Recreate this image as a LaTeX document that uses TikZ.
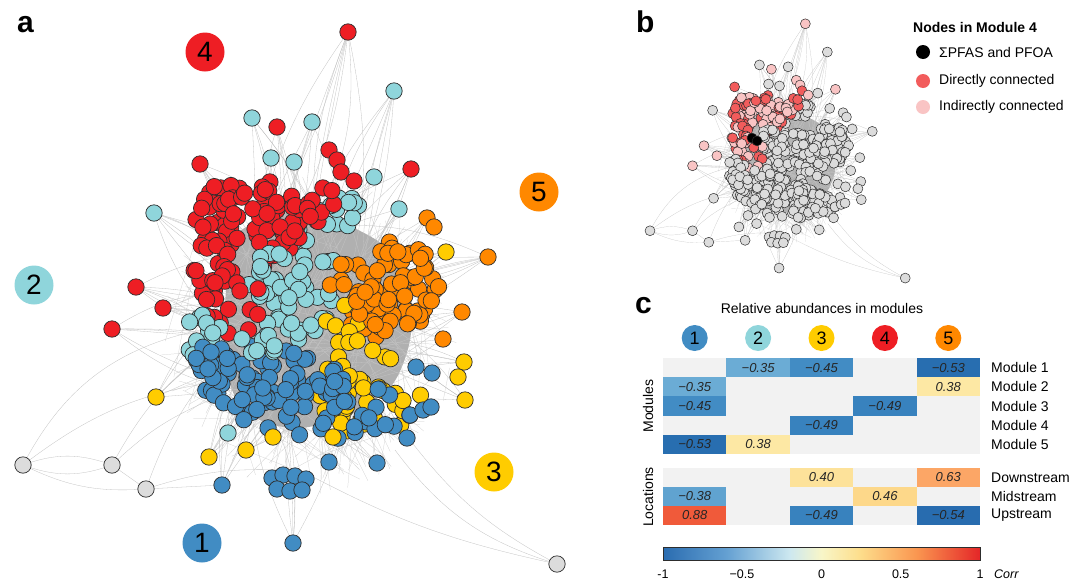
\documentclass[tikz,border=0pt]{standalone}
\usepackage{fontspec}
\setmainfont{Liberation Sans}
\definecolor{cRed}{RGB}{238,30,36}
\definecolor{cLb}{RGB}{143,213,219}
\definecolor{cOr}{RGB}{255,136,0}
\definecolor{cYe}{RGB}{255,204,0}
\definecolor{cBl}{RGB}{65,140,195}
\definecolor{cGr}{RGB}{220,220,220}
\definecolor{cOut}{RGB}{45,45,45}
\definecolor{bRed}{RGB}{242,92,92}
\definecolor{bPink}{RGB}{249,196,196}
\definecolor{texc}{RGB}{205,205,205}
\definecolor{edgec}{RGB}{195,195,195}
\definecolor{blobc}{RGB}{176,176,176}
\definecolor{cellbg}{RGB}{242,242,242}
\definecolor{h35}{RGB}{107,172,213}
\definecolor{h38}{RGB}{96,163,208}
\definecolor{h45}{RGB}{66,140,196}
\definecolor{h49}{RGB}{56,130,190}
\definecolor{h53}{RGB}{40,110,176}
\definecolor{h54}{RGB}{40,108,175}
\definecolor{p38}{RGB}{253,232,164}
\definecolor{p40}{RGB}{253,226,154}
\definecolor{p46}{RGB}{253,216,138}
\definecolor{p63}{RGB}{252,166,102}
\definecolor{p88}{RGB}{240,90,58}
\definecolor{sc0}{RGB}{42,108,176}
\definecolor{sc1}{RGB}{100,160,210}
\definecolor{sc2}{RGB}{205,232,240}
\definecolor{sc3}{RGB}{248,246,200}
\definecolor{sc4}{RGB}{253,222,140}
\definecolor{sc5}{RGB}{250,150,80}
\definecolor{sc6}{RGB}{228,38,40}
\pgfdeclarehorizontalshading{corrshade}{100bp}{color(0bp)=(sc0); color(25bp)=(sc0); color(35bp)=(sc1); color(45bp)=(sc2); color(50bp)=(sc3); color(56bp)=(sc4); color(65bp)=(sc5); color(75bp)=(sc6); color(100bp)=(sc6)}
\tikzset{
  tex/.style={draw=texc, line width=0.22pt},
  oedge/.style={draw=edgec, line width=0.3pt},
  nodeA/.style={fill=#1, draw=cOut, line width=0.7pt},
  nodeB/.style={fill=#1, draw=cOut, line width=0.5pt},
  blobst/.style={fill=blobc},
  setA/.style={
    m0/.style={nodeA=cGr},
    m1/.style={nodeA=cBl}, m1x/.style={nodeA=cBl},
    m2/.style={nodeA=cLb}, m2x/.style={nodeA=cLb},
    m3/.style={nodeA=cYe}, m3x/.style={nodeA=cYe},
    m4/.style={nodeA=cRed}, m4x/.style={nodeA=cRed}, o4/.style={nodeA=cRed},
    m5/.style={nodeA=cOr}, m5x/.style={nodeA=cOr}},
  setB/.style={
    tex/.style={draw=texc, line width=0.12pt},
    oedge/.style={draw=edgec, line width=0.18pt},
    m0/.style={nodeB=cGr},
    m1/.style={nodeB=cGr}, m1x/.style={nodeB=cGr},
    m2/.style={nodeB=cGr}, m2x/.style={nodeB=cGr},
    m3/.style={nodeB=cGr}, m3x/.style={nodeB=cGr},
    m4/.style={nodeB=bRed}, m4x/.style={nodeB=bPink}, o4/.style={nodeB=bPink},
    m5/.style={nodeB=cGr}, m5x/.style={nodeB=cGr}},
  plab/.style={anchor=base west, inner sep=0pt, font=\fontsize{30}{32}\selectfont\bfseries},
  modA/.style={circle, inner sep=0pt, minimum size=39pt, font=\fontsize{28}{30}\selectfont},
  modC/.style={circle, inner sep=0pt, minimum size=26pt, font=\fontsize{18}{20}\selectfont},
  lbl/.style={inner sep=0pt, font=\fontsize{14}{16}\selectfont},
  val/.style={inner sep=0pt, text=black!85, font=\fontsize{13}{15}\selectfont\itshape},
  tick/.style={inner sep=0pt, font=\fontsize{12.5}{14}\selectfont},
}
\newcommand\ndd[3]{\path[#1] (#2,#3) circle[radius=\nr];}
\newcommand\cloud[6]{%
  \foreach \i in {1,...,#1}{%
    \pgfmathsetmacro\aa{360*rnd}%
    \pgfmathsetmacro\rr{sqrt(rnd)}%
    \pgfmathsetmacro\xx{#2+#4*\rr*cos(\aa)}%
    \pgfmathsetmacro\yy{#3+#5*\rr*sin(\aa)}%
    \ifodd\i\relax\edef\st{#6x}\else\edef\st{#6}\fi
    \expandafter\ndd\expandafter{\st}{\xx}{\yy}%
  }}
\newcommand\oedges[3]{%
  \foreach \j in {1,...,#3}{%
    \pgfmathsetmacro\aa{360*rnd}%
    \pgfmathsetmacro\rr{sqrt(rnd)}%
    \pgfmathsetmacro\bd{40*rnd-20}%
    \pgfmathsetmacro\xx{300+85*\rr*cos(\aa)}%
    \pgfmathsetmacro\yy{320+95*\rr*sin(\aa)}%
    \draw[oedge] (#1,#2) to[bend left=\bd] (\xx,\yy);%
  }}
\newcommand\network{%
  \pgfmathsetseed{4242}%
  \foreach \i in {1,...,450}{%
    \pgfmathsetmacro\aa{360*rnd}\pgfmathsetmacro\ra{rnd}%
    \pgfmathsetmacro\bb{360*rnd}\pgfmathsetmacro\rb{rnd}%
    \draw[tex] ({310+150*\ra*cos(\aa)},{335+160*\ra*sin(\aa)}) -- ({310+150*\rb*cos(\bb)},{335+160*\rb*sin(\bb)});}%
  \fill[blobst] plot[smooth cycle] coordinates {(235,235) (285,212) (340,222) (390,250) (410,290) (410,340) (392,385) (350,415) (300,428) (260,420) (232,390) (225,320) (228,270)};%
  \draw[oedge] (23,465) to[bend left=20] (112,465);
  \draw[oedge] (23,465) to[bend right=20] (112,465);
  \draw[oedge] (112,465) -- (146,489);
  \draw[oedge] (23,465) to[bend right=15] (146,489);
  \draw[oedge] (23,465) to[bend left=25] (200,330);
  \draw[oedge] (23,465) to[bend left=15] (230,380);
  \draw[oedge] (112,465) to[bend left=10] (210,400);
  \draw[oedge] (112,465) to[bend left=15] (240,330);
  \draw[oedge] (146,489) -- (222,485);
  \draw[oedge] (146,489) to[bend left=10] (280,470);
  \draw[oedge] (146,489) to[bend left=10] (220,360);
  \draw[oedge] (557,564) to[bend left=12] (410,440);
  \draw[oedge] (557,564) to[bend left=18] (395,450);
  \draw[oedge] (557,564) to[bend left=8] (300,470);
  \foreach \x/\y/\k in {348/32/9, 277/127/5, 252/118/5, 312/122/5, 394/91/7, 200/164/6, 271/158/4, 294/162/4, 411/169/6, 374/177/3, 154/213/7, 399/209/4, 427/218/4, 446/252/5, 488/257/8, 136/287/7, 163/308/6, 112/329/6, 462/312/5, 443/339/3, 156/397/6, 464/362/5, 465/400/5, 209/457/6, 246/450/4, 222/485/6, 293/543/6, 228/433/4, 377/463/4, 407/438/4}{\oedges{\x}{\y}{\k}}%
  \cloud{20}{300}{275}{45}{50}{m2}%
  \cloud{75}{248}{222}{56}{46}{m4}%
  \cloud{35}{292}{292}{46}{48}{m2}%
  \cloud{18}{218}{272}{28}{28}{m4}%
  \cloud{14}{232}{300}{30}{36}{m4}%
  \cloud{16}{208}{335}{22}{30}{m2}%
  \cloud{12}{338}{212}{22}{18}{m2}%
  \cloud{10}{322}{205}{18}{22}{m4}%
  \cloud{45}{385}{288}{55}{50}{m5}%
  \cloud{8}{345}{325}{30}{20}{m3}%
  \cloud{40}{392}{292}{50}{45}{m5}%
  \cloud{36}{368}{392}{55}{42}{m3}%
  \cloud{55}{270}{378}{75}{33}{m1}%
  \cloud{12}{210}{362}{22}{18}{m1}%
  \cloud{10}{262}{342}{30}{18}{m2}%
  \cloud{40}{325}{405}{92}{36}{m1}%
  \foreach \x/\y/\s in {348/32/o4, 277/127/o4, 200/164/m4, 329/150/o4, 337/160/o4, 341/172/m4, 354/181/o4, 411/169/o4, 136/287/o4, 163/308/o4, 112/329/o4,
    394/91/m2, 252/118/m2, 312/122/m2, 271/158/m2, 294/162/m2, 374/177/m2, 154/213/m2, 399/209/m2, 228/433/m2,
    427/218/m5, 434/227/m5, 488/257/m5, 462/312/m5, 443/339/m5,
    446/252/m3, 156/397/m3, 209/457/m3, 246/450/m3, 464/362/m3, 458/377/m3, 465/400/m3, 273/437/m3, 333/437/m3,
    222/485/m1, 293/543/m1, 377/463/m1, 329/462/m1, 407/438/m1, 416/367/m1, 432/373/m1, 410/415/m1, 423/410/m1, 431/407/m1,
    272/478/m1, 283/475/m1, 295/476/m1, 306/479/m1, 277/489/m1, 290/491/m1, 302/490/m1,
    23/465/m0, 112/465/m0, 146/489/m0, 557/564/m0}{\expandafter\ndd\expandafter{\s}{\x}{\y}}%
}
\begin{document}
\begin{tikzpicture}[x=1pt, y=-1pt]
\useasboundingbox (0,0) rectangle (1080,587);
\fill[white] (0,0) rectangle (1080,587);
% ---------- panel a ----------
\begin{scope}[setA]
  \def\nr{8.2}
  \network
\end{scope}
\node[plab] (la) at (17,32) {a};
\node[modA, fill=cRed] (ma4) at (205,52) {4};
\node[modA, fill=cLb] (ma2) at (34,285) {2};
\node[modA, fill=cOr] (ma5) at (539,192) {5};
\node[modA, fill=cYe] (ma3) at (494,472) {3};
\node[modA, fill=cBl] (ma1) at (202,543) {1};
% ---------- panel b ----------
\begin{scope}[shift={(639,8.5)}, scale=0.478, setB]
  \def\nr{10.4}
  \network
  \path[nodeB=black] (236.4,271) circle[radius=\nr];
  \path[nodeB=black] (247,277) circle[radius=\nr];
\end{scope}
\node[plab] (lb) at (636,32) {b};
\node[anchor=west, inner sep=0pt, font=\fontsize{14}{16}\selectfont\bfseries] (lgt) at (913,27) {Nodes in Module 4};
\fill[black] (923,52) circle[radius=7];
\fill[bRed] (923,81) circle[radius=7];
\fill[bPink] (923,107) circle[radius=7];
\node[lbl, anchor=west] (lg1) at (939,52) {ΣPFAS and PFOA};
\node[lbl, anchor=west] (lg2) at (939,81) {Directly connected};
\node[lbl, anchor=west] (lg3) at (939,107) {Indirectly connected};
% ---------- panel c ----------
\node[plab] (lc) at (635,313) {c};
\node[lbl] (ct) at (822,308) {Relative abundances in modules};
\node[modC, fill=cBl] (mc1) at (694.7,338) {1};
\node[modC, fill=cLb] (mc2) at (758.1,338) {2};
\node[modC, fill=cYe] (mc3) at (821.5,338) {3};
\node[modC, fill=cRed] (mc4) at (884.9,338) {4};
\node[modC, fill=cOr] (mc5) at (948.3,338) {5};
\fill[cellbg] (663,358) rectangle (980,454);
\fill[cellbg] (663,468) rectangle (980,525);
\newcommand\hc[6]{%
  \fill[#4] ({663+63.4*(#1-1)},#2) rectangle ({663+63.4*#1},#3);
  \node[val] (#6) at ({663+63.4*(#1-0.5)},{(#2+#3)/2}) {#5};}
\hc{2}{358}{377.2}{h35}{−0.35}{v12}
\hc{3}{358}{377.2}{h45}{−0.45}{v13}
\hc{5}{358}{377.2}{h53}{−0.53}{v15}
\hc{1}{377.2}{396.4}{h35}{−0.35}{v21}
\hc{5}{377.2}{396.4}{p38}{0.38}{v25}
\hc{1}{396.4}{415.6}{h45}{−0.45}{v31}
\hc{4}{396.4}{415.6}{h49}{−0.49}{v34}
\hc{3}{415.6}{434.8}{h49}{−0.49}{v43}
\hc{1}{434.8}{454}{h53}{−0.53}{v51}
\hc{2}{434.8}{454}{p38}{0.38}{v52}
\hc{3}{468}{487}{p40}{0.40}{vd3}
\hc{5}{468}{487}{p63}{0.63}{vd5}
\hc{1}{487}{506}{h38}{−0.38}{vm1}
\hc{4}{487}{506}{p46}{0.46}{vm4}
\hc{1}{506}{525}{p88}{0.88}{vu1}
\hc{3}{506}{525}{h49}{−0.49}{vu3}
\hc{5}{506}{525}{h54}{−0.54}{vu5}
\node[lbl, anchor=west] (r1) at (991,367.6) {Module 1};
\node[lbl, anchor=west] (r2) at (991,386.8) {Module 2};
\node[lbl, anchor=west] (r3) at (991,406) {Module 3};
\node[lbl, anchor=west] (r4) at (991,425.2) {Module 4};
\node[lbl, anchor=west] (r5) at (991,444.4) {Module 5};
\node[lbl, anchor=west] (r6) at (991,477.5) {Downstream};
\node[lbl, anchor=west] (r7) at (991,496.5) {Midstream};
\node[lbl, anchor=west] (r8) at (991,515.5) {Upstream};
\node[lbl, rotate=90] (gm) at (648,406) {Modules};
\node[lbl, rotate=90] (gl) at (648,497) {Locations};
\shade[shading=corrshade] (663,547) rectangle (980,560);
\draw[cOut, line width=0.5pt] (663,547) rectangle (980,560);
\node[tick] (t1) at (663,574) {-1};
\node[tick] (t2) at (742,574) {−0.5};
\node[tick] (t3) at (821.5,574) {0};
\node[tick] (t4) at (900.7,574) {0.5};
\node[tick] (t5) at (980,574) {1};
\node[tick, anchor=west, font=\fontsize{12.5}{14}\selectfont\itshape] (t6) at (994,574) {Corr};
\end{tikzpicture}
\end{document}
